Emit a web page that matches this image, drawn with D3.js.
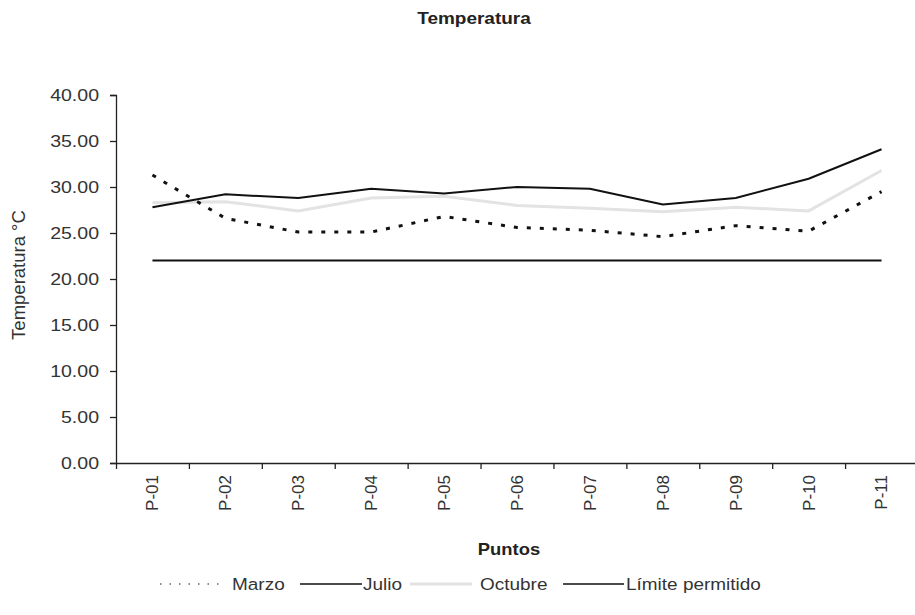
<!DOCTYPE html>
<html>
<head>
<meta charset="utf-8" />
<title>Temperatura</title>
<style>
  body { margin: 0; background: #fff; }
  text { font-family: "Liberation Sans", Arial, sans-serif; }
</style>
</head>
<body>
<div id="chart"></div>
<script src="https://d3js.org/d3.v7.min.js"></script>
<script>
const puntos = ["P-01","P-02","P-03","P-04","P-05","P-06","P-07","P-08","P-09","P-10","P-11"];
const marzo   = [31.3, 26.6, 25.1, 25.1, 26.8, 25.6, 25.3, 24.6, 25.8, 25.2, 29.5];
const julio   = [27.8, 29.2, 28.8, 29.8, 29.3, 30.0, 29.8, 28.1, 28.8, 30.9, 34.1];
const octubre = [28.3, 28.4, 27.4, 28.8, 29.0, 28.0, 27.7, 27.3, 27.8, 27.4, 31.8];
const limite  = [22, 22, 22, 22, 22, 22, 22, 22, 22, 22, 22];
const yTicks  = [0, 5, 10, 15, 20, 25, 30, 35, 40];

const width = 915, height = 615;
const plotLeft = 116, plotRight = 918, plotTop = 95, plotBottom = 463;
const sx = 1.15; // the original text looks a bit wide

const svg = d3.select("#chart").append("svg")
  .attr("width", width).attr("height", height);

const x = d3.scaleBand().domain(puntos).range([plotLeft, plotRight]).padding(0);
const xEdge = d3.scaleLinear().domain([0, puntos.length]).range([plotLeft, plotRight]);
const y = d3.scaleLinear().domain([0, 40]).range([plotBottom, plotTop]);

const wideText = (px, py, str, size, anchor, bold) =>
  svg.append("text")
    .attr("transform", `translate(${px},${py}) scale(${sx},1)`)
    .attr("text-anchor", anchor)
    .style("font-size", size + "px")
    .style("font-weight", bold ? "bold" : "normal")
    .attr("fill", bold ? "#222" : "#333")
    .text(str);

// title
wideText(474, 24, "Temperatura", 16.5, "middle", true);

// y axis
const yAxis = svg.append("g").attr("transform", `translate(${plotLeft},0)`)
  .call(d3.axisLeft(y).tickValues(yTicks).tickFormat(d3.format(".2f")).tickSize(6).tickPadding(9));
yAxis.selectAll("text")
  .attr("x", -17 / sx)
  .attr("transform", `scale(${sx},1)`)
  .style("font-size", "17px").attr("fill", "#333");
yAxis.selectAll("line, path").attr("stroke", "#222").attr("stroke-width", 1.3);

// x axis tick marks between categories
const xTickAxis = svg.append("g").attr("transform", `translate(0,${plotBottom})`)
  .call(d3.axisBottom(xEdge).tickValues(d3.range(0, puntos.length + 1)).tickFormat("").tickSize(6).tickSizeOuter(0));
xTickAxis.selectAll("line, path").attr("stroke", "#222").attr("stroke-width", 1.3);

// x labels
const xAxis = svg.append("g").attr("transform", `translate(0,${plotBottom})`)
  .call(d3.axisBottom(x).tickSize(0).tickPadding(0));
xAxis.select(".domain").remove();
xAxis.selectAll("text")
  .attr("transform", "translate(0,12) rotate(-90)")
  .attr("text-anchor", "end").attr("dy", "0.35em").attr("x", 0).attr("y", 0)
  .style("font-size", "17px").attr("fill", "#333");

// axis titles
svg.append("text").attr("transform", "translate(25,275) rotate(-90)")
  .attr("text-anchor", "middle").style("font-size", "18.5px").attr("fill", "#333")
  .text("Temperatura °C");
wideText(509, 555, "Puntos", 16, "middle", true);

const line = d3.line()
  .x((d, i) => x(puntos[i]) + x.bandwidth() / 2)
  .y(d => y(d));

const series = [
  { name: "Octubre", values: octubre, stroke: "#e3e3e3", width: 3, dash: null },
  { name: "Límite permitido", values: limite, stroke: "#111", width: 2, dash: null },
  { name: "Marzo", values: marzo, stroke: "#111", width: 3, dash: "4,9" },
  { name: "Julio", values: julio, stroke: "#111", width: 2, dash: null }
];

series.forEach(s => {
  svg.append("path").datum(s.values)
    .attr("d", line).attr("fill", "none")
    .attr("stroke", s.stroke).attr("stroke-width", s.width)
    .attr("stroke-dasharray", s.dash);
});

// legend
const legend = [
  { name: "Marzo",  x1: 160, x2: 226, tx: 232, stroke: "#666", width: 1.5, dash: "1.5,8" },
  { name: "Julio",  x1: 300, x2: 362, tx: 363, stroke: "#111", width: 1.5, dash: null },
  { name: "Octubre", x1: 410, x2: 472, tx: 480, stroke: "#e3e3e3", width: 3, dash: null },
  { name: "Límite permitido", x1: 563, x2: 624, tx: 626, stroke: "#111", width: 1.5, dash: null }
];
const ly = 584;
legend.forEach(l => {
  svg.append("line").attr("x1", l.x1).attr("x2", l.x2).attr("y1", ly).attr("y2", ly)
    .attr("stroke", l.stroke).attr("stroke-width", l.width).attr("stroke-dasharray", l.dash);
  wideText(l.tx, ly + 6, l.name, 16.5, "start", false);
});
</script>
</body>
</html>
